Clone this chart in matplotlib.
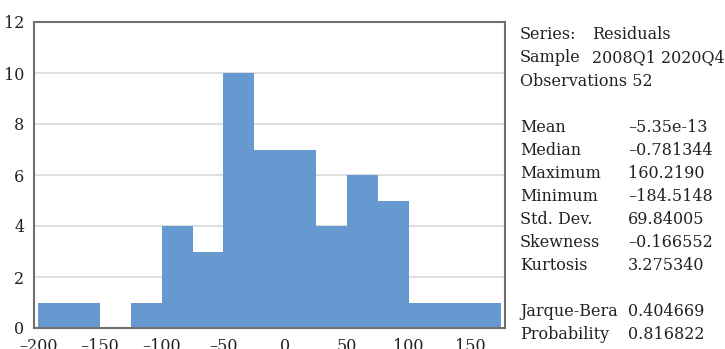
import matplotlib
matplotlib.use("Agg")
import matplotlib.pyplot as plt
from matplotlib.ticker import FuncFormatter

# ---- data ----
bin_edges = [-200, -175, -150, -125, -100, -75, -50, -25, 0, 25, 50, 75, 100, 125, 150, 175]
counts = [1, 1, 0, 1, 4, 3, 10, 7, 7, 4, 6, 5, 1, 1, 1]
x_ticks = [-200, -150, -100, -50, 0, 50, 100, 150]
y_ticks = [0, 2, 4, 6, 8, 10, 12]

header_labels = ["Series:", "Sample", "Observations 52"]
header_values = ["Residuals", "2008Q1 2020Q4", ""]
stat_labels = ["Mean", "Median", "Maximum", "Minimum", "Std. Dev.", "Skewness", "Kurtosis"]
stat_values = ["–5.35e-13", "–0.781344", "160.2190", "–184.5148", "69.84005", "–0.166552", "3.275340"]
jb_labels = ["Jarque-Bera", "Probability"]
jb_values = ["0.404669", "0.816822"]

plt.rcParams['font.family'] = ['DejaVu Serif']

W, H = 725, 349
fig = plt.figure(figsize=(W / 100, H / 100), dpi=100)
ax = fig.add_axes([34 / W, 1 - 328 / H, (505 - 34) / W, (328 - 22) / H])

widths = [bin_edges[i + 1] - bin_edges[i] for i in range(len(counts))]
ax.bar(bin_edges[:-1], counts, width=widths, align='edge', color='#6699D0',
       edgecolor='none', linewidth=0, zorder=2)

ax.set_xlim(-203.5, 178.2)
ax.set_ylim(0, 12)
ax.set_xticks(x_ticks)
ax.set_yticks(y_ticks)
fmt = FuncFormatter(lambda v, p: f"{v:g}".replace('-', '–'))
ax.xaxis.set_major_formatter(fmt)
ax.yaxis.set_major_formatter(fmt)
ax.tick_params(axis='both', length=0, labelsize=11.5, colors='#222222')
ax.tick_params(axis='y', pad=7)
ax.tick_params(axis='x', pad=7)
ax.grid(axis='y', color='#D9D9D9', linewidth=1.2, zorder=1)
ax.set_axisbelow(True)
for s in ax.spines.values():
    s.set_color('#707070')
    s.set_linewidth(1.5)

fs = 11.5
x_lab = 520 / W
x_hval = 592 / W
x_val = 628 / W
def fy(py):
    return 1 - py / H

base = [39.3, 62.5, 85.7]
for lab, val, b in zip(header_labels, header_values, base):
    fig.text(x_lab, fy(b), lab, fontsize=fs, va='baseline', ha='left', color='#222222')
    if val:
        fig.text(x_hval, fy(b), val, fontsize=fs, va='baseline', ha='left', color='#222222')

step = 23.1
for i, (lab, val) in enumerate(zip(stat_labels, stat_values)):
    b = 131.7 + i * step
    fig.text(x_lab, fy(b), lab, fontsize=fs, va='baseline', ha='left', color='#222222')
    fig.text(x_val, fy(b), val, fontsize=fs, va='baseline', ha='left', color='#222222')

for i, (lab, val) in enumerate(zip(jb_labels, jb_values)):
    b = 315.5 + i * step
    fig.text(x_lab, fy(b), lab, fontsize=fs, va='baseline', ha='left', color='#222222')
    fig.text(x_val, fy(b), val, fontsize=fs, va='baseline', ha='left', color='#222222')

fig.savefig("out.png", dpi=100)
